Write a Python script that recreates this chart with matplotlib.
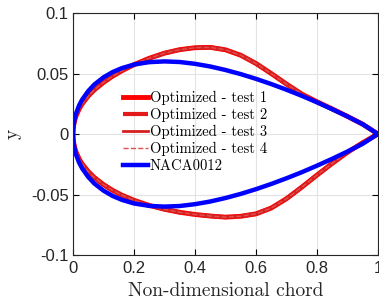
import numpy as np
import matplotlib
matplotlib.use('Agg')
import matplotlib.pyplot as plt

# chordwise stations
xs = [0.0, 0.0005, 0.002, 0.005, 0.01, 0.02, 0.03, 0.05, 0.07, 0.1, 0.13, 0.16,
      0.2, 0.25, 0.3, 0.35, 0.4, 0.45, 0.5, 0.55, 0.6, 0.65, 0.7, 0.75, 0.8,
      0.85, 0.9, 0.95, 1.0]

# NACA0012 upper surface (lower is symmetric)
naca_up = [0.0, 0.0040, 0.0078, 0.0122, 0.0170, 0.0236, 0.0284, 0.0355, 0.0409,
           0.0468, 0.0512, 0.0544, 0.0574, 0.0594, 0.0600, 0.0595, 0.0580, 0.0558,
           0.0529, 0.0495, 0.0456, 0.0413, 0.0366, 0.0316, 0.0262, 0.0205, 0.0145,
           0.0081, 0.0]
naca_lo = [-v for v in naca_up]

# optimized shape (the four tests lie on top of each other)
opt_up = [0.0, 0.0034, 0.0068, 0.0106, 0.0148, 0.0206, 0.0249, 0.0314, 0.0365,
          0.0426, 0.0478, 0.0522, 0.0573, 0.0626, 0.0668, 0.0697, 0.0713, 0.0716,
          0.0696, 0.0651, 0.0583, 0.0500, 0.0413, 0.0331, 0.0267, 0.0207, 0.0146,
          0.0081, 0.0]
opt_lo = [0.0, -0.0034, -0.0068, -0.0106, -0.0148, -0.0205, -0.0247, -0.0310,
          -0.0360, -0.0418, -0.0466, -0.0505, -0.0548, -0.0590, -0.0622, -0.0647,
          -0.0665, -0.0678, -0.0687, -0.0680, -0.0660, -0.0612, -0.0535, -0.0440,
          -0.0340, -0.0243, -0.0152, -0.0072, 0.0]

tests = ['Optimized - test 1', 'Optimized - test 2', 'Optimized - test 3', 'Optimized - test 4']
styles = [('#ff0000', '-', 3.5), ('#e41a1a', '-.', 3.0), ('#d42020', '-', 2.0), ('#e05050', '--', 1.0)]

plt.rcParams['axes.unicode_minus'] = False

fig = plt.figure(figsize=(3.79, 3.01), dpi=100)
ax = fig.add_axes([0.1926, 0.1528, 0.8045, 0.804])

# closed contour: upper from trailing edge to leading edge, then lower back
cx = xs[::-1] + xs[1:]
oy = opt_up[::-1] + opt_lo[1:]
for name, (c, ls, lw) in zip(tests, styles):
    ax.plot(cx, oy, color=c, ls=ls, lw=lw, label=name, solid_joinstyle='round')

ny = naca_up[::-1] + naca_lo[1:]
ax.plot(cx, ny, color='#0000ff', lw=3.2, label='NACA0012', solid_joinstyle='round')

ax.set_xlim(0, 1)
ax.set_ylim(-0.1, 0.1)
ax.set_xticks([0, 0.2, 0.4, 0.6, 0.8, 1])
ax.set_xticklabels(['0', '0.2', '0.4', '0.6', '0.8', '1'])
ax.set_yticks([-0.1, -0.05, 0, 0.05, 0.1])
ax.set_yticklabels(['-0.1', '-0.05', '0', '0.05', '0.1'])
ax.grid(True, color='#e3e3e3', lw=0.8)
ax.set_axisbelow(True)
ax.tick_params(direction='in', top=True, right=True, length=4, width=0.8,
               labelsize=12, pad=3, labelcolor='#262626')
ax.tick_params(axis='x', pad=4.5)
for lab in ax.get_xticklabels() + ax.get_yticklabels():
    lab.set_family('Liberation Sans')
for s in ax.spines.values():
    s.set_linewidth(0.8)
    s.set_color('#262626')

ax.set_xlabel('Non-dimensional chord', family='cmr10', fontsize=14, labelpad=4,
              color='#262626')
ax.set_ylabel('y', family='cmr10', fontsize=14, labelpad=7, color='#262626')

leg = ax.legend(loc='center left', bbox_to_anchor=(0.13, 0.51), frameon=False,
                prop={'family': 'cmr10', 'size': 10.5}, handlelength=1.75,
                handletextpad=0.1, labelspacing=0.2, borderpad=0.2)

fig.savefig('out.png', dpi=100)
